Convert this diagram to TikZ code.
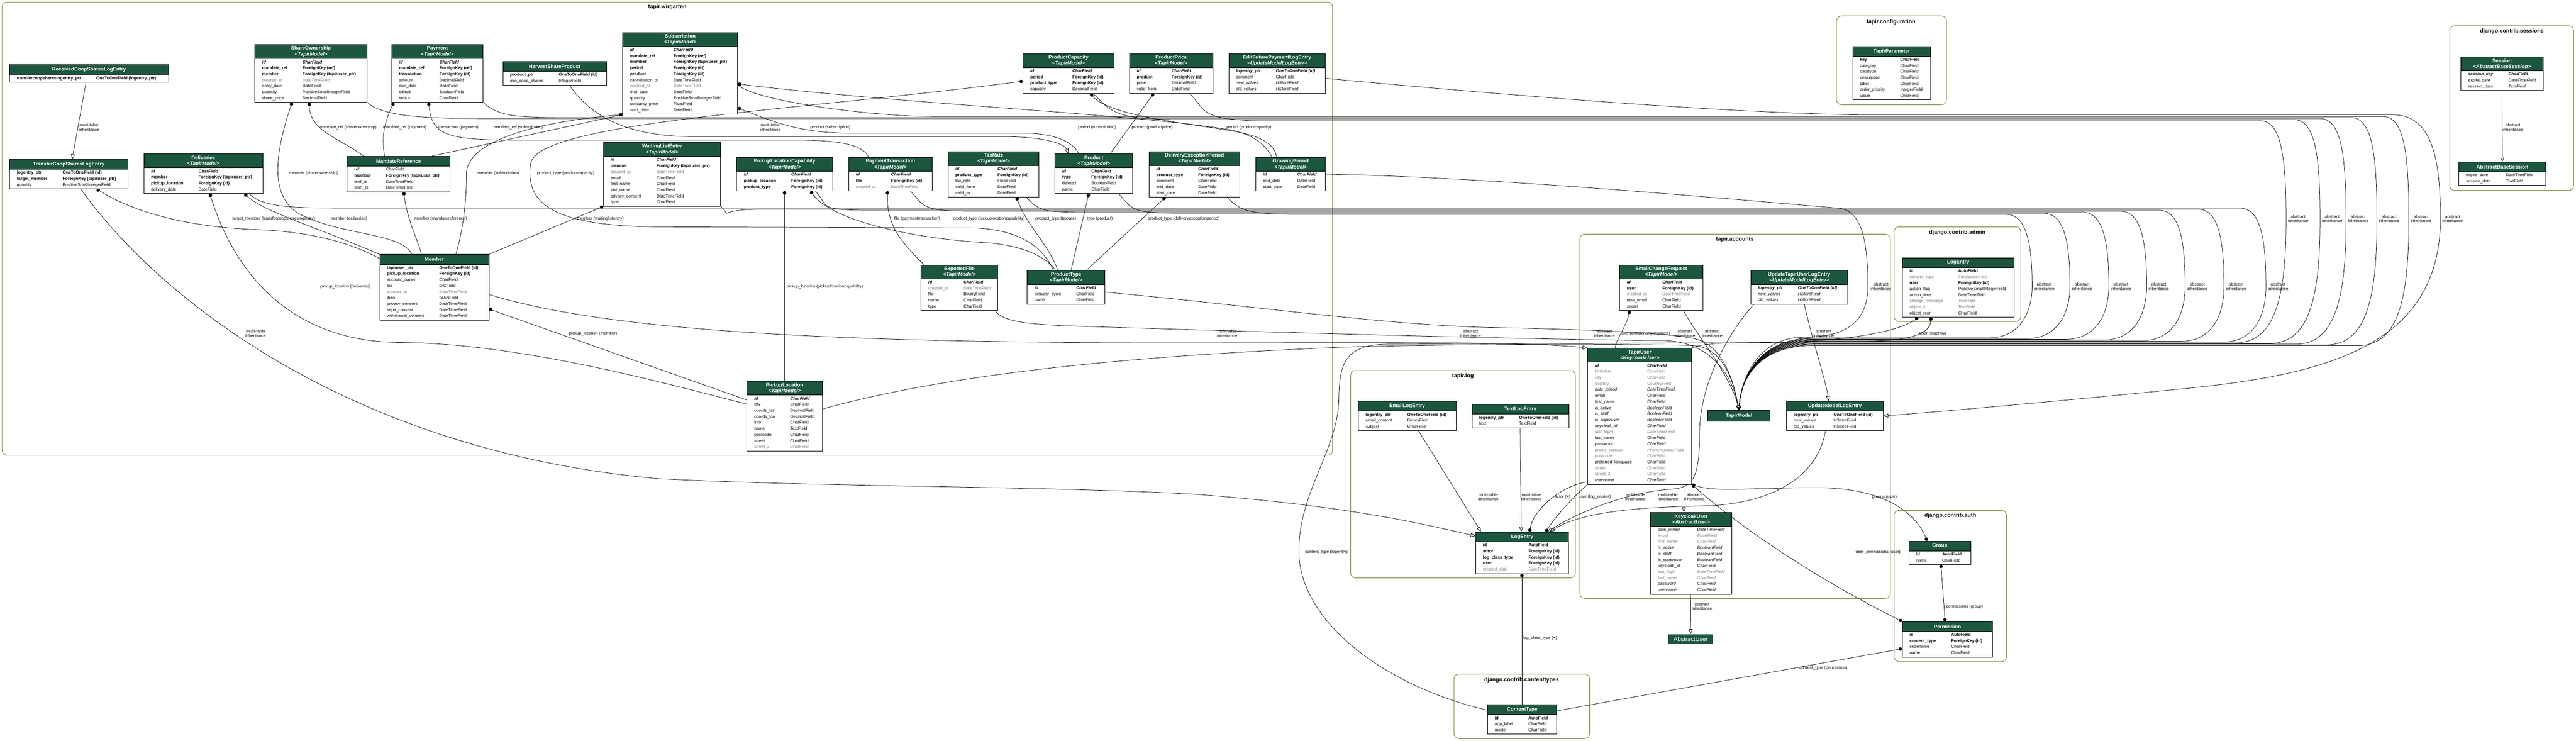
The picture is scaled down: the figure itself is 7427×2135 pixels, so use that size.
\documentclass[tikz,border=0pt]{standalone}
\usepackage{fontspec}
\setmainfont{Liberation Sans}
\usepackage{tikz}
\usetikzlibrary{calc,arrows.meta,shapes.multipart}
\pgfdeclarelayer{bg}
\pgfsetlayers{bg,main}
\definecolor{hdr}{HTML}{1B563F}
\definecolor{clus}{HTML}{698B22}
\definecolor{fgray}{HTML}{7F7F7F}
\newcommand\rn[2]{\detokenize{#1}&\detokenize{#2}\\}
\newcommand\rb[2]{\bfseries\detokenize{#1}&\bfseries\detokenize{#2}\\}
\newcommand\ri[2]{\itshape\detokenize{#1}&\itshape\detokenize{#2}\\}
\newcommand\rk[2]{\bfseries\itshape\detokenize{#1}&\bfseries\itshape\detokenize{#2}\\}
\newcommand\rg[2]{\color{fgray}\detokenize{#1}&\color{fgray}\detokenize{#2}\\}
\newcommand\rgi[2]{\color{fgray}\itshape\detokenize{#1}&\color{fgray}\itshape\detokenize{#2}\\}
\newcommand\hone[2]{\parbox[c][27pt][c]{#1pt}{\centering\color{white}\fontsize{14.5}{17}\selectfont\bfseries #2}}
\newcommand\htwo[3]{\parbox[c][39pt][c]{#1pt}{\centering\color{white}\fontsize{14.5}{17}\selectfont\bfseries #2\\\itshape <#3>}}
\newcommand\fields[2]{\parbox{#1pt}{\vspace{1pt}\hspace*{21pt}\begin{tabular}{@{}l@{\hspace{44pt}}l@{}}#2\end{tabular}\par\vspace{2pt}}}
\newcommand\mdlA[5]{\node[mdl] (#1) at (#2) {\hone{#3}{#4}\nodepart{two}\fields{#3}{#5}};}
\newcommand\mdlB[6]{\node[mdl] (#1) at (#2) {\htwo{#3}{#4}{#5}\nodepart{two}\fields{#3}{#6}};}

\begin{document}
\begin{tikzpicture}[x=1pt,y=-1pt]
\path [use as bounding box] (0,0) rectangle (7427,2135);
\tikzstyle{mdl} = [rectangle split, rectangle split parts=2, rectangle split part fill={hdr,white}, draw, line width=1.3pt, inner sep=0pt, anchor=north west, font=\fontsize{12.2}{17.4}\selectfont]
\tikzstyle{hdrbox} = [fill=hdr, draw=black, line width=1.3pt, text=white, inner sep=0pt, anchor=north west]
\tikzstyle{cluster} = [draw=clus, line width=1.4pt, rounded corners=14pt]
\tikzstyle{clab} = [font=\fontsize{16}{18}\selectfont\bfseries]
\tikzstyle{lbl} = [font=\fontsize{12}{12.5}\selectfont, align=center, inner sep=1pt]
\tikzstyle{fk} = [line width=1.1pt, arrows={Circle[length=10pt]-}]
\tikzstyle{mm} = [line width=1.1pt, arrows={Circle[length=10pt]-Circle[length=10pt]}]
\tikzstyle{inh} = [line width=1.1pt, arrows={-Triangle[open,length=14pt,width=11pt]}]

\node[clab] (cW) at (1924,21) {tapir.wirgarten};
\node[clab] (cC) at (5452,63) {tapir.configuration};
\node[clab] (cS) at (7242,90) {django.contrib.sessions};
\node[clab] (cA) at (5002,691) {tapir.accounts};
\node[clab] (cL) at (4218,1084) {tapir.log};
\node[clab] (cD) at (5643,671) {django.contrib.admin};
\node[clab] (cT) at (4387,1960) {django.contrib.contenttypes};
\node[clab] (cU) at (5623,1487) {django.contrib.auth};

\mdlA{RCS}{27,186}{458}{ReceivedCoopSharesLogEntry}{\rb{transfercoopshareslogentry_ptr}{OneToOneField (logentry_ptr)}}
\mdlA{TCS}{27,459}{341}{TransferCoopSharesLogEntry}{\rb{logentry_ptr}{OneToOneField (id)}\rb{target_member}{ForeignKey (tapiruser_ptr)}\rn{quantity}{PositiveSmallIntegerField}}
\mdlB{SO}{734,128}{324}{ShareOwnership}{TapirModel}{\rk{id}{CharField}\rb{mandate_ref}{ForeignKey (ref)}\rb{member}{ForeignKey (tapiruser_ptr)}\rg{created_at}{DateTimeField}\rn{entry_date}{DateField}\rn{quantity}{PositiveSmallIntegerField}\rn{share_price}{DecimalField}}
\mdlB{PY}{1129,128}{263}{Payment}{TapirModel}{\rk{id}{CharField}\rb{mandate_ref}{ForeignKey (ref)}\rb{transaction}{ForeignKey (id)}\rn{amount}{DecimalField}\rn{due_date}{DateField}\rn{edited}{BooleanField}\rn{status}{CharField}}
\mdlA{HSP}{1449,177}{299}{HarvestShareProduct}{\rb{product_ptr}{OneToOneField (id)}\rn{min_coop_shares}{IntegerField}}
\mdlB{SUB}{1795,93}{331}{Subscription}{TapirModel}{\rk{id}{CharField}\rb{mandate_ref}{ForeignKey (ref)}\rb{member}{ForeignKey (tapiruser_ptr)}\rb{period}{ForeignKey (id)}\rb{product}{ForeignKey (id)}\rn{cancellation_ts}{DateTimeField}\rg{created_at}{DateTimeField}\rn{end_date}{DateField}\rn{quantity}{PositiveSmallIntegerField}\rn{solidarity_price}{FloatField}\rn{start_date}{DateField}}
\mdlB{DEL}{414,443}{343}{Deliveries}{TapirModel}{\rk{id}{CharField}\rb{member}{ForeignKey (tapiruser_ptr)}\rb{pickup_location}{ForeignKey (id)}\rn{delivery_date}{DateField}}
\mdlA{MR}{1000,450}{297}{MandateReference}{\rn{ref}{CharField}\rb{member}{ForeignKey (tapiruser_ptr)}\rn{end_ts}{DateTimeField}\rn{start_ts}{DateTimeField}}
\mdlB{WLE}{1739,410}{338}{WaitingListEntry}{TapirModel}{\rk{id}{CharField}\rb{member}{ForeignKey (tapiruser_ptr)}\rg{created_at}{DateTimeField}\rn{email}{CharField}\rn{first_name}{CharField}\rn{last_name}{CharField}\rn{privacy_consent}{DateTimeField}\rn{type}{CharField}}
\mdlA{MEM}{1094,733}{315}{Member}{\rb{tapiruser_ptr}{OneToOneField (id)}\rb{pickup_location}{ForeignKey (id)}\rn{account_owner}{CharField}\rn{bic}{BICField}\rg{created_at}{DateTimeField}\rn{iban}{IBANField}\rn{privacy_consent}{DateTimeField}\rn{sepa_consent}{DateTimeField}\rn{withdrawal_consent}{DateTimeField}}
\mdlB{PC}{2949,154}{262}{ProductCapacity}{TapirModel}{\rk{id}{CharField}\rb{period}{ForeignKey (id)}\rb{product_type}{ForeignKey (id)}\rn{capacity}{DecimalField}}
\mdlB{PP}{3256,154}{240}{ProductPrice}{TapirModel}{\rk{id}{CharField}\rb{product}{ForeignKey (id)}\rn{price}{DecimalField}\rn{valid_from}{DateField}}
\mdlB{EFP}{3542,154}{279}{EditFuturePaymentLogEntry}{UpdateModelLogEntry}{\rk{logentry_ptr}{OneToOneField (id)}\rn{comment}{CharField}\ri{new_values}{HStoreField}\ri{old_values}{HStoreField}}
\mdlB{PLC}{2123,453}{277}{PickupLocationCapability}{TapirModel}{\rk{id}{CharField}\rb{pickup_location}{ForeignKey (id)}\rb{product_type}{ForeignKey (id)}}
\mdlB{PT}{2446,453}{241}{PaymentTransaction}{TapirModel}{\rk{id}{CharField}\rb{file}{ForeignKey (id)}\rg{created_at}{DateTimeField}}
\mdlB{TR}{2733,436}{262}{TaxRate}{TapirModel}{\rk{id}{CharField}\rb{product_type}{ForeignKey (id)}\rn{tax_rate}{FloatField}\rn{valid_from}{DateField}\rn{valid_to}{DateField}}
\mdlB{PR}{3041,443}{224}{Product}{TapirModel}{\rk{id}{CharField}\rb{type}{ForeignKey (id)}\rn{deleted}{BooleanField}\rn{name}{CharField}}
\mdlB{DEP}{3312,436}{262}{DeliveryExceptionPeriod}{TapirModel}{\rk{id}{CharField}\rb{product_type}{ForeignKey (id)}\rn{comment}{CharField}\rn{end_date}{DateField}\rn{start_date}{DateField}}
\mdlB{GP}{3620,453}{201}{GrowingPeriod}{TapirModel}{\rk{id}{CharField}\rn{end_date}{DateField}\rn{start_date}{DateField}}
\mdlB{EF}{2655,763}{221}{ExportedFile}{TapirModel}{\rk{id}{CharField}\rg{created_at}{DateTimeField}\rn{file}{BinaryField}\rn{name}{CharField}\rn{type}{CharField}}
\mdlB{PTY}{2961,779}{224}{ProductType}{TapirModel}{\rk{id}{CharField}\rn{delivery_cycle}{CharField}\rn{name}{CharField}}
\mdlB{PL}{2153,1098}{217}{PickupLocation}{TapirModel}{\rk{id}{CharField}\rn{city}{CharField}\rn{coords_lat}{DecimalField}\rn{coords_lon}{DecimalField}\rn{info}{CharField}\rn{name}{TextField}\rn{postcode}{CharField}\rn{street}{CharField}\rg{street_2}{CharField}}
\mdlA{TP}{5341,133}{225}{TapirParameter}{\rb{key}{CharField}\rn{category}{CharField}\rn{datatype}{CharField}\rn{description}{CharField}\rn{label}{CharField}\rn{order_priority}{IntegerField}\rn{value}{CharField}}
\mdlB{ECR}{4669,763}{240}{EmailChangeRequest}{TapirModel}{\rk{id}{CharField}\rb{user}{ForeignKey (id)}\rg{created_at}{DateTimeField}\rn{new_email}{CharField}\rn{secret}{CharField}}
\mdlB{UTU}{5047,779}{279}{UpdateTapirUserLogEntry}{UpdateModelLogEntry}{\rk{logentry_ptr}{OneToOneField (id)}\ri{new_values}{HStoreField}\ri{old_values}{HStoreField}}
\mdlB{TU}{4577,1003}{300}{TapirUser}{KeycloakUser}{\rk{id}{CharField}\rg{birthdate}{DateField}\rg{city}{CharField}\rg{country}{CountryField}\ri{date_joined}{DateTimeField}\rn{email}{CharField}\rn{first_name}{CharField}\ri{is_active}{BooleanField}\ri{is_staff}{BooleanField}\ri{is_superuser}{BooleanField}\ri{keycloak_id}{CharField}\rgi{last_login}{DateTimeField}\rn{last_name}{CharField}\ri{password}{CharField}\rg{phone_number}{PhoneNumberField}\rg{postcode}{CharField}\rn{preferred_language}{CharField}\rg{street}{CharField}\rg{street_2}{CharField}\ri{username}{CharField}}
\mdlA{UML}{5150,1156}{279}{UpdateModelLogEntry}{\rb{logentry_ptr}{OneToOneField (id)}\rn{new_values}{HStoreField}\rn{old_values}{HStoreField}}
\mdlA{ELE}{3916,1156}{281}{EmailLogEntry}{\rb{logentry_ptr}{OneToOneField (id)}\rn{email_content}{BinaryField}\rn{subject}{CharField}}
\mdlA{TLE}{4243,1165}{280}{TextLogEntry}{\rb{logentry_ptr}{OneToOneField (id)}\rn{text}{TextField}}
\mdlA{LE}{4254,1533}{268}{LogEntry}{\rb{id}{AutoField}\rb{actor}{ForeignKey (id)}\rb{log_class_type}{ForeignKey (id)}\rb{user}{ForeignKey (id)}\rg{created_date}{DateTimeField}}
\mdlB{KU}{4758,1476}{234}{KeycloakUser}{AbstractUser}{\ri{date_joined}{DateTimeField}\rgi{email}{EmailField}\rgi{first_name}{CharField}\ri{is_active}{BooleanField}\ri{is_staff}{BooleanField}\ri{is_superuser}{BooleanField}\rn{keycloak_id}{CharField}\rgi{last_login}{DateTimeField}\rgi{last_name}{CharField}\ri{password}{CharField}\ri{username}{CharField}}
\mdlA{ALE}{5484,742}{322}{LogEntry}{\rb{id}{AutoField}\rg{content_type}{ForeignKey (id)}\rb{user}{ForeignKey (id)}\rn{action_flag}{PositiveSmallIntegerField}\rn{action_time}{DateTimeField}\rg{change_message}{TextField}\rg{object_id}{TextField}\rn{object_repr}{CharField}}
\mdlB{SES}{7094,163}{238}{Session}{AbstractBaseSession}{\rk{session_key}{CharField}\ri{expire_date}{DateTimeField}\ri{session_data}{TextField}}
\mdlA{ABS}{7088,466}{252}{AbstractBaseSession}{\rn{expire_date}{DateTimeField}\rn{session_data}{TextField}}
\mdlA{CT}{4288,2031}{200}{ContentType}{\rb{id}{AutoField}\rn{app_label}{CharField}\rn{model}{CharField}}
\mdlA{GR}{5503,1559}{178}{Group}{\rb{id}{AutoField}\rn{name}{CharField}}
\mdlA{PM}{5484,1791}{260}{Permission}{\rb{id}{AutoField}\rb{content_type}{ForeignKey (id)}\rn{codename}{CharField}\rn{name}{CharField}}
\node[hdrbox, minimum width=180pt, minimum height=30pt, font=\fontsize{14.5}{17}\selectfont\bfseries] (TM) at (4923,1183) {TapirModel};
\node[hdrbox, draw=hdr, minimum width=128pt, minimum height=27pt, font=\fontsize{17}{19}\selectfont] (AU) at (4810,1828) {AbstractUser};

\coordinate (aSO) at (SO.south east);
\coordinate (aPY) at (PY.south east);
\coordinate (aSUB) at ($(SUB.north east)+(0,152)$);
\coordinate (aPC) at ($(PC.south west)+(202,0)$);
\coordinate (aPP) at ($(PP.south west)+(173,0)$);
\coordinate (aDEL) at ($(DEL.south east)+(-40,0)$);
\coordinate (aWLE) at (WLE.south east);
\coordinate (aPLC) at ($(PLC.south west)+(228,0)$);
\coordinate (aPT) at ($(PT.south west)+(179,0)$);
\coordinate (aTR) at ($(TR.south west)+(226,0)$);
\coordinate (aPR) at ($(PR.south west)+(184,0)$);
\coordinate (aDEP) at ($(DEP.south west)+(226,0)$);

\begin{pgfonlayer}{bg}
\draw[cluster] (6,6) rectangle (3842,1312);
\draw[cluster] (5295,46) rectangle (5612,302);
\draw[cluster] (7063,74) rectangle (7420,549);
\draw[cluster] (4555,675) rectangle (5450,1725);
\draw[cluster] (3894,1068) rectangle (4542,1666);
\draw[cluster] (5461,654) rectangle (5826,927);
\draw[cluster] (4192,1943) rectangle (4583,2129);
\draw[cluster] (5461,1471) rectangle (5785,1907);

	\draw[fk] ($(TCS.south west)+(252,0)$) .. controls (400,620) and (560,655) .. (740,662) .. controls (900,668) and (1010,700) .. ($(MEM.north west)+(0,12)$) node[lbl] (l1) at (789,631) {target\_member (transfercoopshareslogentry)};
	\draw[fk] ($(SO.south west)+(108,0)$) .. controls (800,420) and (770,560) .. (860,615) .. controls (980,680) and (1160,670) .. ($(MEM.north west)+(93,0)$) node[lbl] (l2) at (904,499) {member (shareownership)};
	\draw[fk] ($(SO.south west)+(157,0)$) .. controls (895,380) and (975,395) .. ($(MR.north west)+(48,0)$) node[lbl] (l3) at (1004,367) {mandate\_ref (shareownership)};
	\draw[fk] ($(PY.south west)+(6,0)$) .. controls (1105,360) and (1100,400) .. ($(MR.north west)+(109,0)$) node[lbl] (l4) at (1167,367) {mandate\_ref (payment)};
	\draw[fk] ($(PY.south west)+(107,0)$) .. controls (1245,392) and (1290,404) .. (1500,404) -- (2300,404) .. controls (2430,404) and (2490,420) .. ($(PT.north west)+(58,0)$) node[lbl] (l5) at (1321,367) {transaction (payment)};
	\draw[fk] (SUB.south west) -- ($(MR.north east)+(-53,0)$) node[lbl] (l6) at (1494,367) {mandate\_ref (subscription)};
	\draw[fk] (SUB.south west) .. controls (1500,355) and (1345,420) .. (1345,500) .. controls (1345,600) and (1330,680) .. ($(MEM.north east)+(-96,0)$) node[lbl] (l7) at (1437,499) {member (subscription)};
	\draw[fk] ($(SUB.north east)+(0,149)$) .. controls (2600,300) and (3300,330) .. (3550,375) .. controls (3620,390) and (3650,420) .. ($(GP.north west)+(47,0)$) node[lbl] (l8) at (3163,367) {period (subscription)};
	\draw[fk] ($(SUB.north east)+(0,218)$) .. controls (2250,360) and (2320,384) .. (2460,384) -- (2960,384) .. controls (3060,386) and (3100,420) .. ($(PR.north west)+(69,0)$) node[lbl] (l9) at (2394,367) {product (subscription)};
	\draw[fk] ($(PC.south west)+(195,0)$) .. controls (3200,340) and (3480,360) .. (3590,385) .. controls (3650,400) and (3678,425) .. ($(GP.north west)+(60,0)$) node[lbl] (l10) at (3601,367) {period (productcapacity)};
	\draw[fk] ($(PC.north west)+(0,80)$) .. controls (2300,320) and (1560,350) .. (1530,470) .. controls (1510,600) and (1620,652) .. (1900,654) -- (2800,657) .. controls (2950,660) and (3010,720) .. ($(PTY.north west)+(76,0)$) node[lbl] (l11) at (1631,499) {product\_type (productcapacity)};
	\draw[fk] ($(PP.south west)+(70,0)$) -- ($(PR.north west)+(160,0)$) node[lbl] (l12) at (3322,367) {product (productprice)};
	\draw[fk] ($(DEL.south west)+(291,0)$) .. controls (760,610) and (900,650) .. (MEM.north west) node[lbl] (l13) at (1006,631) {member (deliveries)};
	\draw[fk] ($(DEL.south west)+(191,0)$) .. controls (680,800) and (850,985) .. (1150,987) .. controls (1500,990) and (1900,1100) .. ($(PL.north west)+(0,67)$) node[lbl] (l14) at (996,826) {pickup\_location (deliveries)};
	\draw[fk] ($(MEM.north east)+(0,158)$) -- ($(PL.north west)+(0,55)$) node[lbl] (l15) at (1710,961) {pickup\_location (member)};
	\draw[fk] ($(MR.south west)+(164,0)$) .. controls (1175,640) and (1205,690) .. ($(MEM.north west)+(121,0)$) node[lbl] (l16) at (1270,631) {member (mandatereference)};
	\draw[fk] (WLE.south west) -- (MEM.north east) node[lbl] (l17) at (1731,631) {member (waitinglistentry)};
	\draw[fk] ($(PLC.south west)+(139,0)$) -- ($(PL.north west)+(109,0)$) node[lbl] (l18) at (2378,826) {pickup\_location (pickuplocationcapability)};
	\draw[fk] ($(PLC.south west)+(214,0)$) .. controls (2400,640) and (2650,690) .. (2850,700) .. controls (2960,710) and (3020,745) .. ($(PTY.north west)+(82,0)$) node[lbl] (l19) at (2851,631) {product\_type (pickuplocationcapability)};
	\draw[fk] ($(PT.south west)+(113,0)$) .. controls (2555,650) and (2600,700) .. ($(EF.north west)+(9,0)$) node[lbl] (l20) at (2644,631) {file (paymenttransaction)};
	\draw[fk] ($(TR.south west)+(198,0)$) .. controls (2960,650) and (3020,700) .. ($(PTY.north west)+(89,0)$) node[lbl] (l21) at (3044,631) {product\_type (taxrate)};
	\draw[fk] ($(PR.south west)+(98,0)$) -- ($(PTY.north west)+(127,0)$) node[lbl] (l22) at (3171,631) {type (product)};
	\draw[fk] ($(DEP.south west)+(48,0)$) -- ($(PTY.north west)+(171,0)$) node[lbl] (l23) at (3413,631) {product\_type (deliveryexceptionperiod)};
	\draw[fk] ($(ECR.south west)+(29,0)$) .. controls (4690,940) and (4660,975) .. ($(TU.north west)+(80,0)$) node[lbl] (l24) at (4744,961) {user (emailchangerequest)};
	\draw[fk] ($(LE.north west)+(156,0)$) .. controls (4420,1470) and (4500,1400) .. ($(TU.south west)+(0,-8)$) node[lbl] (l25) at (4505,1433) {actor (+)};
	\draw[fk] ($(LE.north west)+(203,0)$) .. controls (4490,1480) and (4550,1420) .. (TU.south west) node[lbl] (l26) at (4598,1433) {user (log\_entries)};
	\draw[fk] ($(LE.south west)+(134,0)$) -- ($(CT.north west)+(100,0)$) node[lbl] (l27) at (4440,1840) {log\_class\_type (+)};
	\draw[fk] ($(ALE.south west)+(46,0)$) .. controls (5470,960) and (5300,985) .. (5100,988) -- (4000,992) .. controls (3875,994) and (3862,1050) .. (3860,1150) .. controls (3858,1300) and (3740,1420) .. (3745,1600) .. controls (3755,1800) and (4000,1980) .. ($(CT.north west)+(0,16)$) node[lbl] (l28) at (3824,1591) {content\_type (logentry)};
	\draw[fk] ($(ALE.south west)+(83,0)$) .. controls (5565,965) and (5500,982) .. (5380,984) -- (5000,988) .. controls (4930,990) and (4895,995) .. (TU.north east) node[lbl] (l29) at (5573,961) {user (logentry)};
	\draw[fk] ($(PM.north west)+(0,79)$) -- ($(CT.north east)+(0,18)$) node[lbl] (l30) at (5257,1925) {content\_type (permission)};
	\draw[mm] (TU.south east) .. controls (4950,1420) and (5050,1405) .. (5250,1406) .. controls (5420,1408) and (5520,1470) .. ($(GR.north west)+(53,0)$) node[lbl] (l31) at (5433,1433) {groups (user)};
	\draw[mm] (TU.south east) .. controls (5050,1550) and (5300,1700) .. (PM.north west) node[lbl] (l32) at (5415,1591) {user\_permissions (user)};
	\draw[mm] ($(GR.south west)+(93,0)$) -- ($(PM.north west)+(124,0)$) node[lbl] (l33) at (5664,1749) {permissions (group)};

	\draw[inh] ($(RCS.south west)+(221,0)$) -- ($(TCS.north west)+(181,0)$) node[lbl] (l34) at (257,367) {multi-table\\inheritance};
	\draw[inh] ($(TCS.south west)+(206,0)$) .. controls (450,850) and (1000,1300) .. (1900,1380) .. controls (2400,1405) and (3000,1400) .. (3450,1425) .. controls (3900,1460) and (4100,1510) .. ($(LE.north west)+(0,12)$) node[lbl] (l35) at (737,961) {multi-table\\inheritance};
	\draw[inh] ($(HSP.south west)+(193,0)$) .. controls (1700,330) and (1800,394) .. (2000,394) -- (2900,394) .. controls (3010,394) and (3070,415) .. ($(PR.north west)+(39,0)$) node[lbl] (l36) at (2221,367) {multi-table\\inheritance};
	\draw[inh] ($(MEM.north east)+(0,116)$) .. controls (1800,970) and (2600,990) .. (3500,988) .. controls (4000,987) and (4400,985) .. (TU.north west) node[lbl] (l37) at (3538,961) {multi-table\\inheritance};
	\draw[inh] ($(ELE.south west)+(174,0)$) -- ($(LE.north west)+(16,0)$) node[lbl] (l38) at (4291,1433) {multi-table\\inheritance};
	\draw[inh] ($(TLE.south west)+(140,0)$) -- ($(LE.north west)+(132,0)$) node[lbl] (l39) at (4415,1433) {multi-table\\inheritance};
	\draw[inh] ($(UML.south west)+(113,0)$) .. controls (5240,1380) and (5100,1452) .. (4920,1458) .. controls (4720,1462) and (4560,1475) .. ($(LE.north east)+(-55,0)$) node[lbl] (l40) at (4715,1433) {multi-table\\inheritance};
	\draw[inh] ($(UTU.south west)+(10,0)$) .. controls (4990,950) and (4900,1100) .. (4900,1250) .. controls (4900,1380) and (4880,1405) .. (4820,1410) .. controls (4700,1418) and (4560,1470) .. ($(LE.north east)+(-62,0)$) node[lbl] (l41) at (4809,1433) {multi-table\\inheritance};
	\draw[inh] ($(UTU.south west)+(155,0)$) .. controls (5230,1000) and (5265,1100) .. ($(UML.north west)+(122,0)$) node[lbl] (l42) at (5258,961) {abstract\\inheritance};
	\draw[inh] ($(TU.south west)+(278,0)$) -- ($(KU.north west)+(97,0)$) node[lbl] (l43) at (4885,1433) {abstract\\inheritance};
	\draw[inh] ($(KU.south west)+(116,0)$) -- (AU.north) node[lbl] (l44) at (4907,1748) {abstract\\inheritance};
	\draw[inh] (SES.south) -- (ABS.north) node[lbl] (l45) at (7245,367) {abstract\\inheritance};
	\draw[inh] ($(EFP.north east)+(0,72)$) .. controls (4300,270) and (5000,330) .. (5400,331) -- (6900,331) .. controls (7020,331) and (7036,480) .. (7036,631) .. controls (7036,1000) and (6700,1080) .. (6300,1120) .. controls (5900,1160) and (5600,1186) .. (UML.east) node[lbl] (l46) at (7071,631) {abstract\\inheritance};
	\draw[inh] (GP.east) .. controls (4300,510) and (5000,575) .. (5300,600) .. controls (5370,606) and (5385,700) .. (5385,826) .. controls (5385,930) and (5320,972) .. (5200,972) .. controls (5070,972) and (5020,1090) .. (TM.north) node[lbl] (l47) at (5423,826) {abstract\\inheritance};
	\draw[inh] ($(EF.south east)+(-8,0)$) .. controls (2890,925) and (2950,935) .. (3100,940) .. controls (3800,962) and (4400,978) .. (4800,982) .. controls (4930,985) and (4995,1080) .. (TM.north) node[lbl] (l48) at (4626,961) {abstract\\inheritance};
	\draw[inh] ($(PTY.north east)+(0,63)$) .. controls (3600,880) and (4000,938) .. (4300,944) .. controls (4600,950) and (4800,960) .. (4880,975) .. controls (4960,990) and (4995,1080) .. (TM.north) node[lbl] (l49) at (4240,961) {abstract\\inheritance};
	\draw[inh] ($(PL.north east)+(0,81)$) .. controls (2800,1060) and (3400,1020) .. (3890,1000) .. controls (4300,990) and (4750,992) .. (4880,996) .. controls (4960,1000) and (4995,1080) .. (TM.north) node[lbl] (l50) at (4937,961) {abstract\\inheritance};
	\draw[inh] ($(ECR.south east)+(-56,0)$) .. controls (4880,950) and (4990,1080) .. (TM.north) node[lbl] (l51) at (4858,961) {abstract\\inheritance};

\foreach \m/\ex/\ys/\lx/\yb [count=\i] in {SUB/2700/336/6980/996, PY/1700/339/6888/994, SO/1450/342/6799/992, PC/3400/345/6724/990, PP/3650/348/6626/988}
	\draw[inh] (a\m) .. controls +(50,45) and ({\ex-200},\ys) .. (\ex,\ys) -- ({\lx-110},\ys) .. controls ({\lx-50},\ys) and ({\lx-35},{\ys+100}) .. ({\lx-35},631) .. controls ({\lx-35},{\yb-150}) and ({\lx-60},\yb) .. ({\lx-180},\yb) -- (5230,\yb) .. controls (5070,\yb) and (5020,1090) .. (TM.north) node[lbl] (u\i) at (\lx,631) {abstract\\inheritance};
\foreach \m/\ex/\ys/\lx/\yb [count=\i] in {DEL/1000/600/6568/986, WLE/2200/603/6447/984, PLC/2500/606/6335/982, PT/2800/609/6224/980, TR/3150/612/6115/978, PR/3400/615/6003/976, DEP/3750/618/5894/974}
	\draw[inh] (a\m) .. controls +(40,40) and ({\ex-150},\ys) .. (\ex,\ys) -- ({\lx-110},\ys) .. controls ({\lx-50},\ys) and ({\lx-35},{\ys+90}) .. ({\lx-35},826) .. controls ({\lx-35},{\yb-90}) and ({\lx-60},\yb) .. ({\lx-160},\yb) -- (5230,\yb) .. controls (5070,\yb) and (5020,1090) .. (TM.north) node[lbl] (m\i) at (\lx,826) {abstract\\inheritance};
\end{pgfonlayer}
\end{tikzpicture}
\end{document}
